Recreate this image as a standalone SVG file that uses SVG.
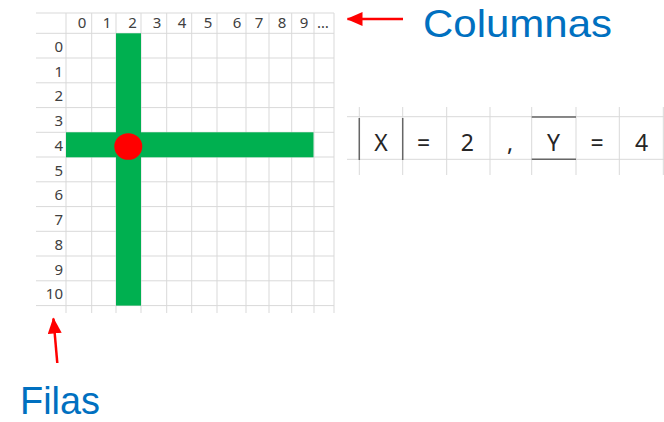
<svg xmlns="http://www.w3.org/2000/svg" width="664" height="422" viewBox="0 0 664 422">
<style>
.g{stroke:#d9d9d9;stroke-width:1;fill:none}
.lab{font-family:"Noto Sans","Open Sans",sans-serif;font-size:15px;fill:#404040}
.big{font-family:"Liberation Sans",Arial,sans-serif;font-size:39px;fill:#0070c0}
.eq{font-family:"Noto Sans","Open Sans",sans-serif;font-size:23px;fill:#262626;text-anchor:middle}
.arr{stroke:#ff0000;stroke-width:2.5;fill:none}
.box{stroke:#666;stroke-width:1.5;fill:none}
</style>
<defs>
<marker id="ah" markerWidth="16" markerHeight="14" refX="15" refY="7" orient="auto" markerUnits="userSpaceOnUse" viewBox="0 0 16 14">
<path d="M0,0 L16,7 L0,14 Z" fill="#ff0000"/>
</marker>
</defs>
<rect width="664" height="422" fill="#fff"/>
<g id="grid">
<path class="g" d="M66,13V313M91.7,13V313M116,13V313M141,13V313M166.7,13V313M191.7,13V313M217,13V313M246,13V313M269,13V313M291.7,13V313M314,13V313M334,13V313"/>
<path class="g" d="M36,13H334M36,33.3H334M36,58H334M36,82.8H334M36,107.6H334M36,132.3H334M36,157H334M36,181.8H334M36,206.6H334M36,231.3H334M36,256H334M36,280.8H334M36,305.6H334"/>
<g class="lab" text-anchor="middle">
<text x="82" y="27.5">0</text><text x="107" y="27.5">1</text><text x="132.5" y="27.5">2</text><text x="157" y="27.5">3</text><text x="182" y="27.5">4</text><text x="208" y="27.5">5</text><text x="237" y="27.5">6</text><text x="259" y="27.5">7</text><text x="282" y="27.5">8</text><text x="304" y="27.5">9</text><text x="323" y="27.5">…</text>
</g>
<g class="lab" text-anchor="end">
<text x="63" y="52">0</text><text x="63" y="76.5">1</text><text x="63" y="101">2</text><text x="63" y="126">3</text><text x="63" y="151">4</text><text x="63" y="175.5">5</text><text x="63" y="200">6</text><text x="63" y="225">7</text><text x="63" y="250">8</text><text x="63" y="274.5">9</text><text x="63" y="299">10</text>
</g>
</g>
<g id="cross">
<rect x="116" y="33.3" width="25" height="272.3" fill="#00b050"/>
<rect x="66" y="132.3" width="247.5" height="25" fill="#00b050"/>
<ellipse cx="128.3" cy="146.5" rx="14" ry="13.3" fill="#ff0000"/>
</g>
<g id="formula">
<path class="g" d="M347,116.7H664M347,159.3H664M359.3,107V175M402.7,107V175M446.7,107V175M490,107V175M531.7,107V175M576,107V175M619.3,107V175M663.3,107V175"/>
<path class="box" d="M359.3,118V160M402.7,118V160M531.7,117H576M531.7,159.3H576"/>
<text class="eq" x="381" y="151">X</text>
<text class="eq" x="423.5" y="151">=</text>
<text class="eq" x="467.3" y="151">2</text>
<text class="eq" x="510" y="151">,</text>
<text class="eq" x="553.5" y="151">Y</text>
<text class="eq" x="597" y="151">=</text>
<text class="eq" x="641.7" y="151">4</text>
</g>
<g id="connectors">
<line class="arr" x1="403" y1="19" x2="347.5" y2="19" marker-end="url(#ah)"/>
<line class="arr" x1="57.3" y1="363" x2="53.4" y2="318.5" marker-end="url(#ah)"/>
</g>
<g id="labels">
<text class="big" x="423" y="37" textLength="189" lengthAdjust="spacingAndGlyphs">Columnas</text>
<text class="big" x="20" y="414" textLength="80" lengthAdjust="spacingAndGlyphs">Filas</text>
</g>
</svg>
